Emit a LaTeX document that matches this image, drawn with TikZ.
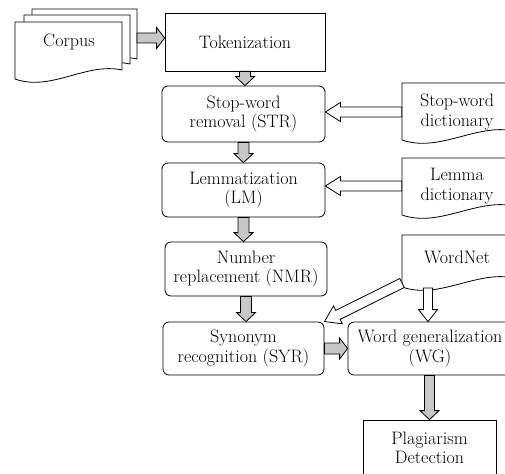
\documentclass[tikz,border=0pt]{standalone}
\usetikzlibrary{calc}
\tikzset{
  every node/.style={font=\fontsize{18}{19.5}\selectfont, align=center},
  box/.style={draw, line width=0.8pt, fill=white, inner sep=0pt},
  rbox/.style={box, rounded corners=6pt},
  doc/.style={draw, line width=0.8pt, fill=white},
  lbl/.style={inner sep=0pt},
  grayarr/.style={draw, line width=0.8pt, fill=black!22},
  whitearr/.style={draw, line width=0.8pt, fill=white},
}
% block arrow: style, from, to, shaft half width, head half width, head length
\newcommand\blockarr[6]{%
  \path[#1] let \p1=(#2), \p2=(#3), \n1={atan2(\y2-\y1,\x2-\x1)}, \n2={veclen(\x2-\x1,\y2-\y1)} in
   [shift={(\p1)}, rotate=\n1] (0pt,-#4pt) -- ({(\n2-#6)*1pt},-#4pt) -- ({(\n2-#6)*1pt},-#5pt)
   -- ({\n2*1pt},0pt) -- ({(\n2-#6)*1pt},#5pt) -- ({(\n2-#6)*1pt},#4pt) -- (0pt,#4pt) -- cycle;
}
% document outline: x1, top, x2, bottom-left y
\newcommand\docpath[4]{%
  \path[doc] (#1,#2) -- (#3,#2) -- (#3,#4-9)
    .. controls ({#1+2*(#3-#1)/3},#4-17) and ({#1+(#3-#1)/3},#4+13) .. (#1,#4) -- cycle;
}
\begin{document}
\begin{tikzpicture}[x=1pt,y=-1pt]
\useasboundingbox (0,0) rectangle (505,473);
\clip (0,0) rectangle (505,473);

% Corpus stack
\docpath{32}{9}{137}{68}
\docpath{24}{15}{130}{73}
\docpath{15}{22}{122}{79}
\node[lbl] (corpus) at (69,42) {Corpus};
\coordinate (corpus-r) at (137,38);

% process boxes
\node[box, minimum width=160pt, minimum height=58pt] (tok) at (245,42) {Tokenization};
\node[rbox, minimum width=163pt, minimum height=56pt] (str) at (243.5,114) {Stop-word\\removal (STR)};
\node[rbox, minimum width=163pt, minimum height=54pt] (lm) at (243.5,190) {Lemmatization\\(LM)};
\node[rbox, minimum width=162pt, minimum height=54pt] (nmr) at (246,269) {Number\\replacement (NMR)};
\node[rbox, minimum width=161pt, minimum height=53pt] (syr) at (243.5,348.5) {Synonym\\recognition (SYR)};
\node[rbox, minimum width=164pt, minimum height=53pt] (wg) at (430,348.5) {Word generalization\\(WG)};
\node[box, minimum width=133pt, minimum height=56pt] (pd) at (429.5,448) {Plagiarism\\Detection};

% dictionaries
\docpath{402}{83}{514}{140}
\node[lbl, minimum width=110pt] (swd) at (457,112) {Stop-word\\dictionary};
\docpath{402}{158}{514}{215}
\node[lbl, minimum width=110pt] (lem) at (457,186) {Lemma\\dictionary};
\docpath{402}{235}{514}{287}
\node[lbl, minimum width=110pt] (wn) at (457,257) {WordNet};
\coordinate (wn-bl) at (402,283);
\coordinate (wn-b) at (428,288);

% gray flow arrows
\blockarr{grayarr}{corpus-r}{tok.west|-corpus-r}{5}{10.5}{8}
\blockarr{grayarr}{tok.south}{str.north-|tok.south}{5.5}{9.5}{9}
\blockarr{grayarr}{str.south}{lm.north-|str.south}{5.5}{9.5}{9}
\blockarr{grayarr}{lm.south}{nmr.north-|lm.south}{5.5}{9.5}{9}
\blockarr{grayarr}{nmr.south}{syr.north-|nmr.south}{5.5}{9.5}{9}
\blockarr{grayarr}{syr.east}{wg.west|-syr.east}{5.5}{10.5}{8}
\blockarr{grayarr}{pd.north|-wg.south}{pd.north}{5}{9.5}{9}

% white resource arrows
\blockarr{whitearr}{swd.west}{str.east|-swd.west}{5}{9.5}{15}
\blockarr{whitearr}{lem.west}{lm.east|-lem.west}{5}{9.5}{15}
\blockarr{whitearr}{wn-bl}{syr.north east}{5}{10}{15}
\blockarr{whitearr}{wn-b}{wg.north-|wn-b}{4.5}{9.5}{12}
\end{tikzpicture}
\end{document}
